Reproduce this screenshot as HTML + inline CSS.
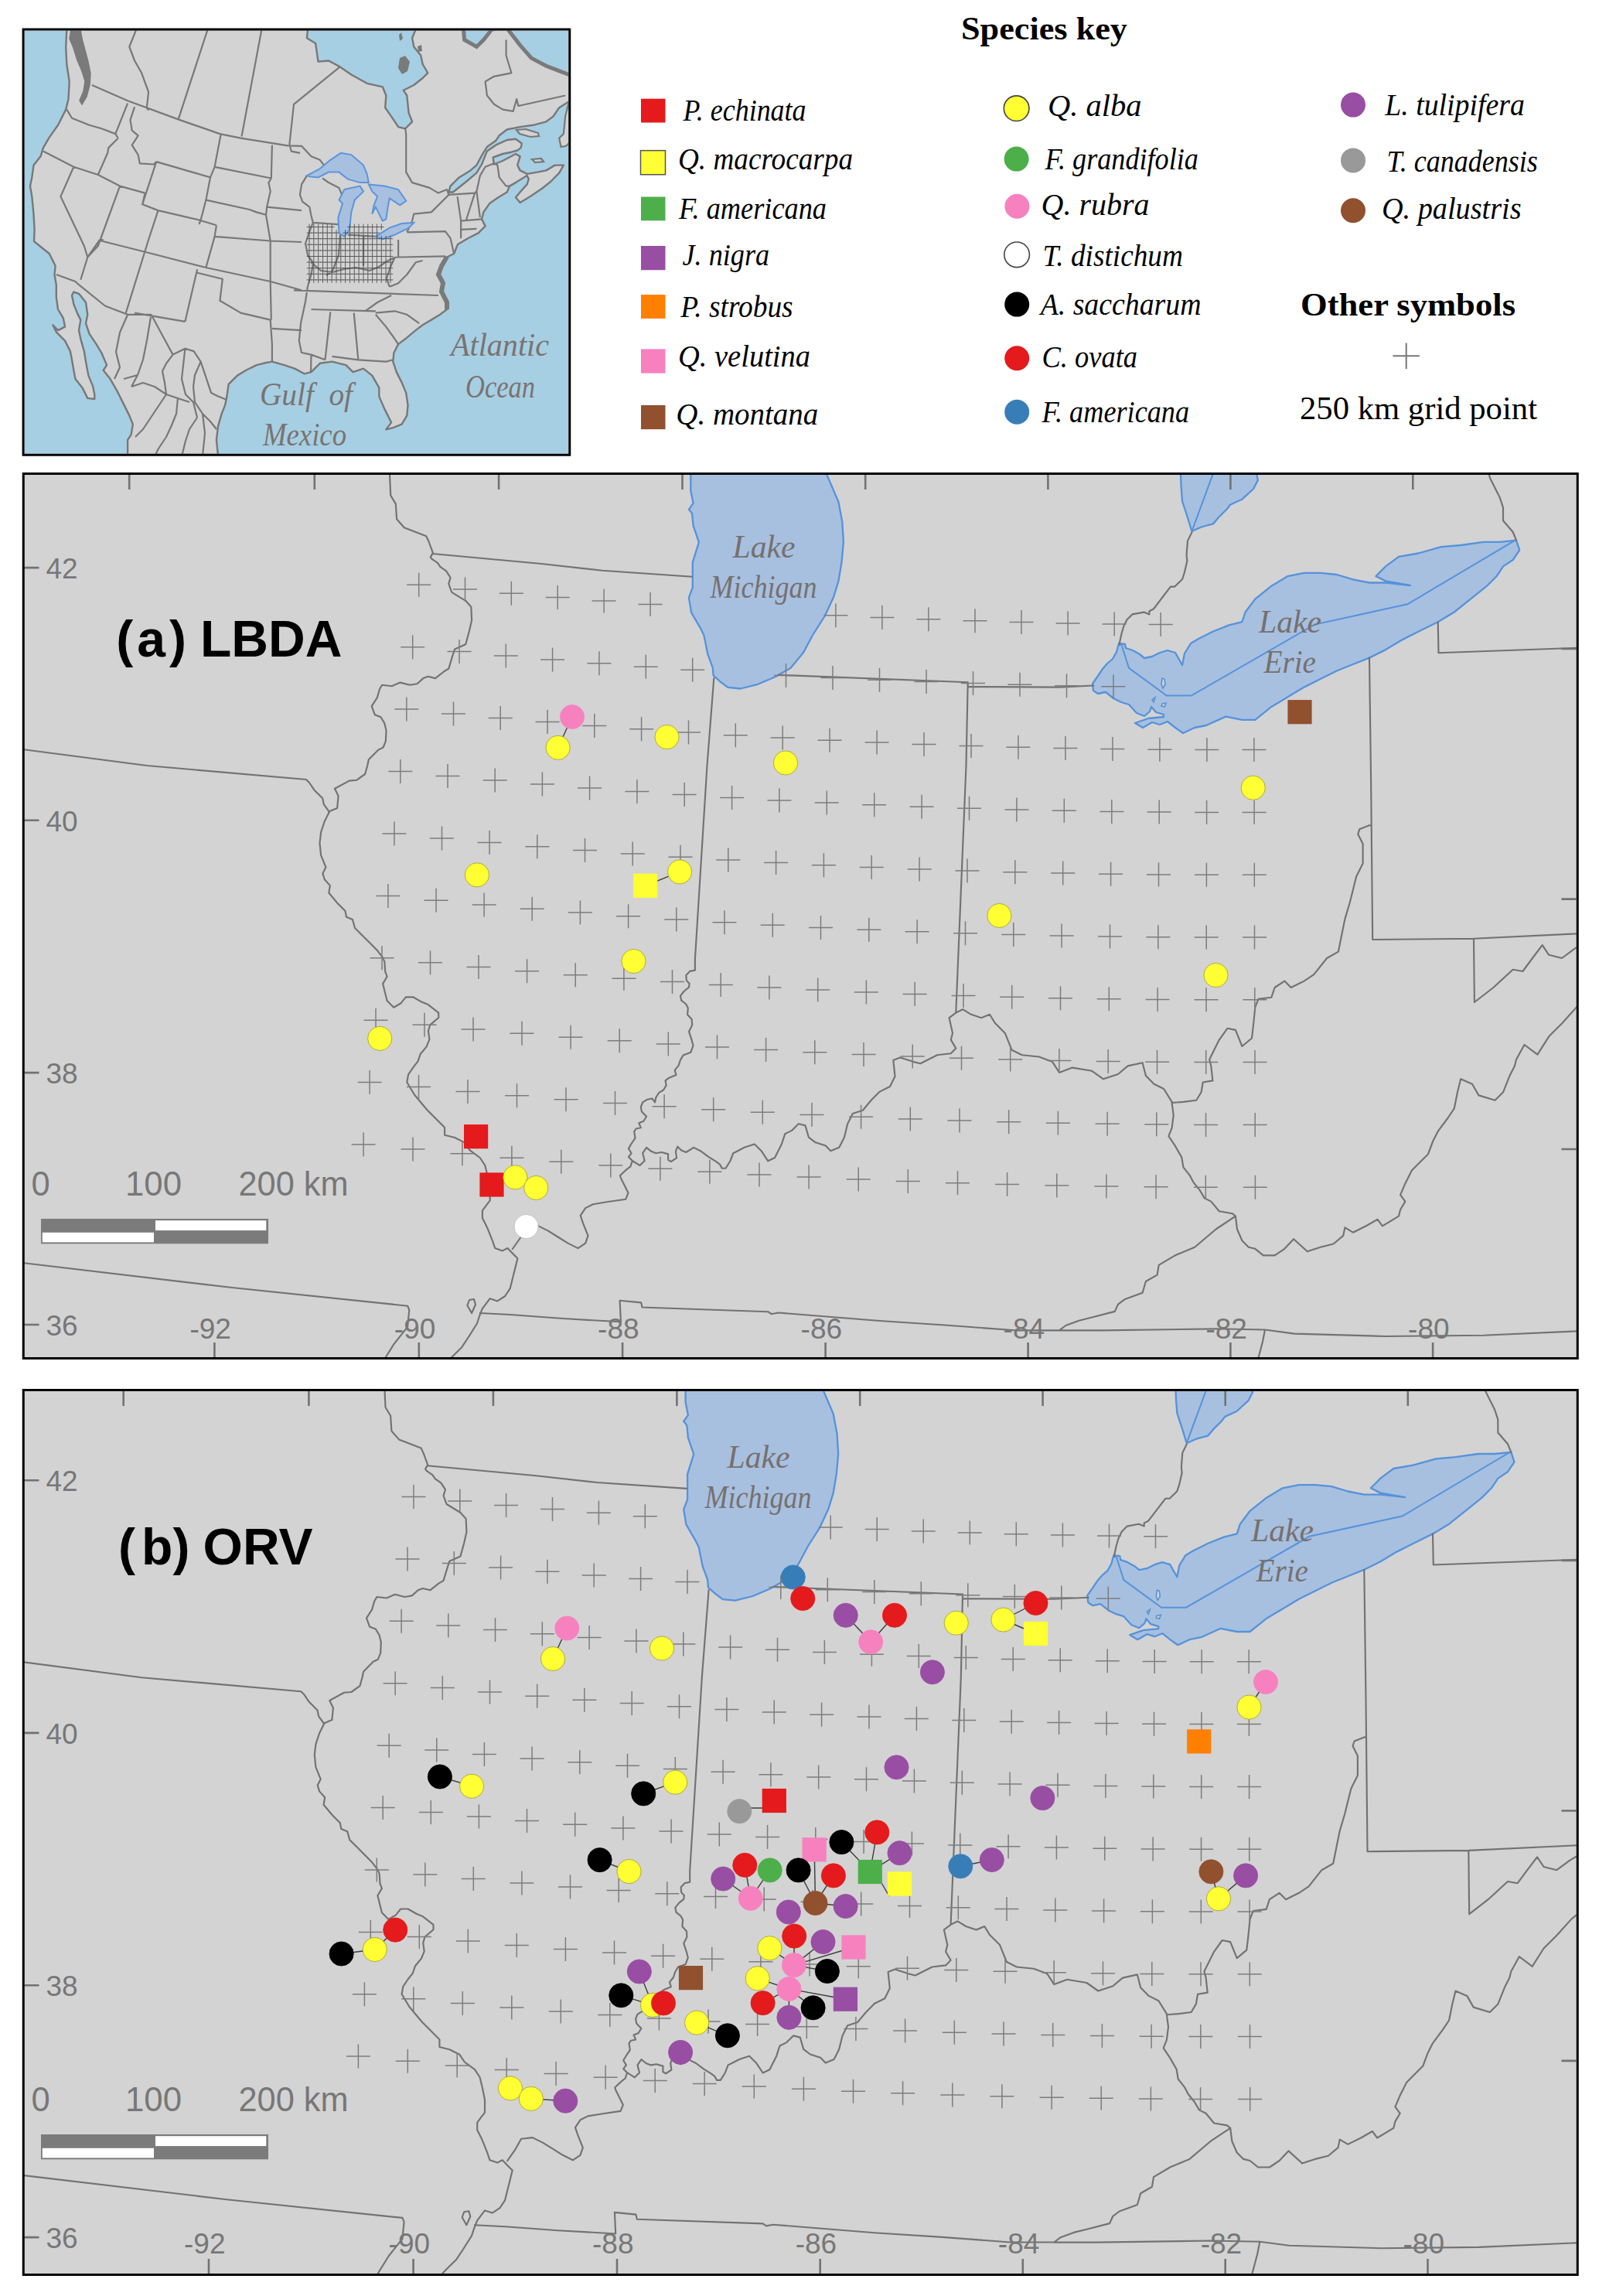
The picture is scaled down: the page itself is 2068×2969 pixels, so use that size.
<!DOCTYPE html>
<html><head><meta charset="utf-8"><style>
html,body{margin:0;padding:0;background:#fff;}
svg{display:block;}
</style></head><body>
<svg width="2068" height="2969" viewBox="0 0 2068 2969" xmlns="http://www.w3.org/2000/svg">
<defs>
<clipPath id="clipA"><rect x="31" y="613" width="2009" height="1143"/></clipPath>
<clipPath id="clipB"><rect x="31" y="1798" width="2009" height="1143"/></clipPath>
<g id="base">
<path d="M893.3,600.0 L893.3,614.9 L893.3,634.4 L896.6,650.7 L890.9,658.8 L895.0,663.7 L896.6,679.9 L903.9,701.1 L895.8,727.1 L895.8,759.6 L890.9,772.6 L894.1,792.1 L905.5,811.6 L910.4,821.4 L915.3,845.8 L921.8,863.7 L922.6,873.4 L931.5,881.5 L941.3,888.9 L957.6,890.5 L980.3,884.8 L1003.1,875.0 L1022.6,863.7 L1038.9,844.1 L1051.9,819.8 L1066.5,797.0 L1077.9,772.6 L1084.4,751.5 L1088.5,727.0 L1090.9,701.0 L1089.3,675.0 L1084.4,649.0 L1069.8,614.9 L1066.0,600.0Z" fill="#a7c0e0" stroke="#5692da" stroke-width="2.3" stroke-linejoin="round"/>
<path d="M1527.0,600.0 L1527.0,614.1 L1527.7,630.6 L1529.1,648.5 L1534.6,665.0 L1541.4,687.0 L1553.8,681.5 L1569.0,677.4 L1575.8,669.2 L1586.9,658.2 L1591.0,652.7 L1606.1,645.8 L1621.2,632.0 L1626.8,621.0 L1625.4,614.1 L1624.0,600.0Z" fill="#a7c0e0" stroke="#5692da" stroke-width="2.3" stroke-linejoin="round"/>
<path d="M1447.0,832.0 L1455.0,833.0 L1456.0,838.0 L1465.0,841.0 L1474.0,846.0 L1480.0,851.0 L1490.0,849.0 L1500.0,844.0 L1510.0,841.0 L1520.0,844.0 L1529.0,860.0 L1532.0,845.0 L1540.0,832.0 L1550.0,826.0 L1560.0,821.0 L1568.4,816.8 L1589.5,808.4 L1606.4,804.2 L1610.6,791.5 L1623.3,774.6 L1644.4,757.7 L1665.5,745.1 L1686.6,740.9 L1707.7,740.9 L1728.8,743.0 L1749.9,749.3 L1771.0,753.5 L1792.1,753.5 L1823.8,757.0 L1792.1,751.4 L1779.5,745.1 L1792.1,732.4 L1809.0,719.8 L1834.3,715.5 L1863.9,707.1 L1889.2,705.0 L1918.8,700.8 L1939.9,700.8 L1961.0,698.6 L1965.2,711.3 L1956.7,724.0 L1944.1,732.4 L1935.6,745.1 L1923.0,757.7 L1901.9,774.6 L1880.8,791.5 L1859.7,804.2 L1834.3,816.8 L1813.2,827.4 L1792.1,840.1 L1771.0,850.6 L1749.9,859.0 L1728.8,867.5 L1707.7,878.0 L1686.6,888.6 L1665.5,901.3 L1644.4,913.9 L1623.3,930.8 L1606.4,930.8 L1585.3,926.6 L1560.0,938.0 L1545.0,941.0 L1530.0,948.0 L1520.0,941.0 L1510.0,933.0 L1500.0,937.0 L1490.0,934.0 L1478.0,941.0 L1468.0,935.0 L1485.0,929.0 L1505.0,927.0 L1505.0,924.0 L1495.0,921.0 L1489.0,914.0 L1487.0,920.0 L1480.0,926.0 L1470.0,922.0 L1460.0,911.0 L1450.0,908.0 L1440.0,903.0 L1430.0,895.0 L1420.0,897.0 L1414.0,893.0 L1413.0,884.0 L1420.0,874.0 L1426.0,865.0 L1432.0,858.0 L1439.0,852.0 L1444.0,843.0Z" fill="#a7c0e0" stroke="#5692da" stroke-width="2.3" stroke-linejoin="round"/>
<path d="M1503.0,877.0 L1506.0,878.0 L1507.0,885.0 L1504.0,890.0 L1502.0,885.0Z" fill="#d3d3d3" stroke="#5692da" stroke-width="1.6"/>
<path d="M1490.0,905.0 L1494.0,902.0 L1492.0,908.0Z" fill="#d3d3d3" stroke="#5692da" stroke-width="1.6"/>
<path d="M1503.0,910.0 L1508.0,909.0 L1506.0,914.0 L1502.0,913.0Z" fill="#d3d3d3" stroke="#5692da" stroke-width="1.6"/>
<path d="M1541.4,687.0 L1568.3,614.1 L1573.0,600.0 M1450.2,833.0 L1460.0,863.9 L1508.8,899.5 L1540.7,899.5 L1700.2,807.6 L1820.3,781.3 L1959.1,698.8" fill="none" stroke="#5692da" stroke-width="2"/>
<path d="M504.0,612.0 L504.0,614.4 L505.2,640.6 L511.8,651.6 L513.1,671.3 L522.7,682.2 L551.2,693.2 L554.4,700.0 L559.9,714.9 L556.8,720.4 L558.3,722.7 L566.2,728.2 L569.3,732.9 L577.1,738.4 L582.6,747.0 L580.3,754.9 L584.2,765.8 L602.2,776.8 L609.3,784.7 L610.1,801.9 L606.9,816.0 L602.2,833.2 L588.1,839.5 L585.0,848.9 L580.3,864.6 L574.0,868.5 L563.0,877.1 L553.6,874.8 L547.4,877.1 L539.5,884.2 L530.1,885.8 L517.6,882.6 L506.6,887.3 L494.1,885.8 L490.9,891.3 L487.8,902.2 L480.7,913.2 L484.7,924.2 L492.5,927.3 L497.2,935.1 L499.5,944.6 L498.8,958.7 L495.6,966.5 L489.4,969.6 L476.8,982.2 L475.2,990.0 L472.1,1001.0 L461.1,1008.8 L451.7,1009.6 L432.9,1019.8 L437.6,1029.2 L436.1,1044.9 L425.1,1049.6 L426.1,1049.4 L419.8,1062.0 L415.1,1076.1 L413.5,1090.2 L415.1,1105.9 L421.4,1121.5 L417.4,1129.4 L419.8,1137.2 L426.9,1145.1 L425.3,1154.5 L437.0,1168.6 L446.5,1178.0 L448.0,1185.8 L455.9,1189.0 L459.0,1200.0 L468.4,1209.4 L477.8,1218.8 L487.2,1228.2 L495.1,1238.4 L497.4,1243.9 L498.2,1256.4 L500.6,1262.7 L495.1,1272.1 L498.2,1284.6 L500.6,1294.0 L509.2,1302.7 L518.6,1297.2 L524.9,1289.3 L534.3,1289.3 L545.2,1295.6 L553.1,1298.7 L567.2,1309.7 L567.2,1316.0 L556.2,1325.4 L553.9,1333.2 L555.4,1344.2 L551.5,1353.6 L543.7,1363.0 L540.5,1372.4 L534.3,1380.3 L528.0,1389.7 L526.3,1399.5 L536.1,1415.8 L552.4,1435.3 L568.6,1451.5 L575.1,1458.0 L575.1,1467.8 L588.1,1471.0 L601.1,1477.6 L607.6,1487.3 L620.7,1497.0 L627.2,1506.8 L630.4,1519.8 L633.7,1536.1 L633.7,1552.4 L623.9,1565.4 L623.9,1575.1 L630.4,1588.1 L636.9,1604.4 L640.2,1614.1 L649.9,1617.4 L656.4,1614.0 L662.9,1620.7 L669.4,1627.2 L666.2,1640.2 L662.9,1653.2 L659.7,1666.2 L653.2,1676.0 L643.4,1682.4 L633.7,1679.2 L623.9,1692.2 L620.7,1700.0 L616.9,1711.5 L605.9,1729.0 L597.2,1742.2 L584.0,1755.3 L575.0,1765.0 M610.0,1698.0 L604.4,1688.0 L607.0,1681.0 L613.0,1680.0 L615.0,1687.0 L610.0,1698.0 M25.0,968.5 L190.0,990.0 L396.0,1008.0 L400.0,1012.0 L406.3,1021.4 L417.2,1032.3 L418.8,1040.2 L425.1,1048.8 M559.1,716.0 L700.0,729.0 L778.8,737.8 L894.8,745.7 M25.0,1632.5 L300.0,1665.0 L527.1,1688.7 L529.3,1694.0 L527.1,1715.9 L509.6,1737.8 L498.7,1755.3 L493.0,1765.0 M923.3,877.0 L914.5,990.0 L898.9,1240.0 L898.9,1254.6 L892.2,1255.9 L887.3,1261.3 L887.9,1268.0 L891.6,1271.7 L891.0,1276.6 L884.9,1281.5 L880.0,1287.6 L881.2,1293.7 L887.3,1298.5 L889.8,1303.4 L889.1,1312.0 L894.6,1318.0 L895.2,1325.4 L891.0,1333.9 L894.6,1344.9 L896.5,1352.2 L893.4,1360.7 L883.7,1364.4 L880.0,1370.5 L877.6,1377.8 L872.7,1383.9 L874.5,1390.0 L865.4,1393.7 L860.5,1397.3 L861.7,1403.4 L858.0,1409.5 L852.0,1413.2 L848.3,1419.3 L847.1,1425.4 L843.4,1420.5 L837.3,1421.7 L831.2,1425.4 L828.8,1431.5 L830.0,1437.6 L836.1,1443.7 L832.4,1449.8 L826.3,1452.2 L828.8,1458.3 L822.7,1459.5 L820.2,1463.2 L821.5,1471.7 L816.6,1479.0 L812.9,1485.1 L816.6,1491.2 L812.9,1496.1 L817.8,1501.0 M817.8,1501.0 L815.4,1508.3 L809.3,1513.2 L802.0,1520.0 L802.8,1523.1 L812.5,1542.6 L809.3,1550.7 L786.5,1554.0 L767.0,1557.2 L757.2,1562.1 L750.7,1571.9 L754.0,1581.6 L760.5,1597.9 L757.2,1607.6 L747.5,1614.1 L734.5,1607.6 L721.5,1599.5 L708.5,1591.4 L695.4,1584.9 L680.8,1586.5 L672.7,1601.0 L662.9,1615.0 M817.8,1501.0 L827.6,1507.1 L833.7,1501.0 L831.2,1491.2 L836.1,1483.9 L842.2,1488.8 L848.3,1491.2 L855.6,1490.0 L864.1,1492.4 L864.1,1499.8 L867.8,1502.2 L875.1,1497.3 L873.9,1488.8 L876.3,1482.7 L881.2,1487.6 L887.3,1490.0 L897.1,1483.9 L906.8,1488.8 L916.6,1496.1 L926.3,1502.2 L931.2,1505.9 L933.7,1510.7 L938.5,1510.7 L944.6,1501.0 L948.3,1491.2 L953.2,1488.8 L962.7,1483.8 L975.8,1479.5 L984.6,1488.2 L993.3,1501.3 L1002.1,1497.0 L1010.9,1479.5 L1015.2,1466.3 L1024.0,1461.9 L1032.7,1453.2 L1041.5,1455.4 L1045.9,1470.7 L1054.6,1477.3 L1067.8,1481.6 L1074.3,1488.2 L1085.3,1483.8 L1091.9,1470.7 L1096.2,1453.2 L1102.8,1440.0 L1115.9,1435.7 L1126.9,1422.5 L1137.8,1411.6 L1151.0,1405.0 L1157.5,1391.9 L1155.3,1370.9 L1164.1,1367.4 L1181.6,1373.1 L1190.4,1375.3 L1212.2,1364.3 L1229.8,1362.2 L1236.3,1355.6 L1229.8,1344.6 L1232.0,1335.9 L1227.6,1316.2 L1236.3,1309.6 M1236.3,1309.6 L1245.1,1305.2 L1256.0,1311.8 L1269.3,1316.2 L1280.0,1311.8 L1286.7,1322.8 L1299.8,1335.9 L1308.6,1357.8 L1321.7,1364.3 L1343.6,1366.5 L1361.1,1373.1 L1370.0,1386.9 L1386.9,1380.6 L1412.2,1384.8 L1427.0,1395.3 L1446.0,1389.0 L1458.6,1378.4 L1477.6,1374.2 L1481.9,1391.1 L1492.4,1401.7 L1505.1,1408.0 L1515.6,1424.9 M1515.6,1426.0 L1530.4,1424.9 L1547.3,1422.8 L1553.6,1412.2 L1555.7,1399.5 L1568.4,1397.4 L1566.3,1378.4 L1564.2,1370.0 L1566.3,1365.7 L1576.8,1344.6 L1587.4,1329.8 L1597.9,1331.9 L1606.4,1353.0 L1619.0,1342.5 L1621.2,1323.5 L1623.3,1302.4 L1627.5,1291.8 L1644.4,1289.7 L1648.6,1277.0 L1661.3,1268.6 L1669.7,1277.0 L1686.6,1268.6 L1699.3,1260.2 L1716.1,1239.0 L1730.9,1230.6 L1735.1,1209.5 L1739.4,1188.4 L1745.7,1167.3 L1749.9,1150.4 L1754.1,1133.5 L1762.6,1116.6 L1762.6,1091.3 L1756.2,1078.6 L1758.3,1072.3 L1771.0,1067.2 L1773.0,1067.0 M1251.7,882.3 L1249.5,990.0 L1236.3,1309.6 M1006.5,872.7 L1251.7,882.3 M1251.7,882.3 L1251.7,888.0 L1370.0,888.6 L1414.3,886.5 M1771.0,850.6 L1773.1,1010.0 L1775.2,1215.0 M1859.7,804.2 L1860.5,844.3 L2048.0,837.5 M1775.2,1215.0 L1906.0,1213.7 L2048.0,1207.0 M1906.0,1213.7 L1906.9,1296.0 L1931.4,1277.0 L1956.7,1253.8 L1969.4,1256.0 L1982.0,1239.0 L1994.7,1222.2 L2003.2,1234.8 L2020.0,1239.0 L2037.0,1226.4 L2048.0,1220.0 M2048.0,1295.0 L2039.0,1302.4 L2020.0,1323.5 L2003.2,1340.3 L1988.4,1363.6 L1971.5,1351.0 L1961.0,1370.0 L1958.9,1378.4 L1952.5,1391.1 L1944.1,1412.2 L1933.5,1422.8 L1912.4,1416.4 L1904.0,1401.7 L1889.2,1395.3 L1885.0,1412.2 L1880.8,1433.3 L1872.3,1446.0 L1859.7,1462.9 L1853.3,1475.5 L1847.0,1492.4 L1834.3,1505.1 L1825.9,1513.5 L1817.4,1530.4 L1811.1,1545.2 L1817.4,1553.6 L1811.1,1564.2 L1809.0,1572.6 L1787.9,1585.3 L1781.6,1576.8 L1766.8,1585.3 L1749.9,1593.7 L1739.4,1587.4 L1737.2,1597.9 L1724.6,1608.5 L1707.7,1612.7 L1690.8,1618.2 L1673.1,1602.2 L1661.3,1614.8 L1648.6,1623.3 L1633.8,1623.3 L1623.3,1614.8 L1614.8,1612.7 L1606.4,1604.3 L1600.0,1589.5 L1597.9,1572.6 M1515.6,1426.0 L1517.7,1441.8 L1515.6,1458.6 L1511.4,1469.2 L1519.9,1481.9 L1528.3,1496.6 L1530.4,1509.3 L1538.8,1519.9 L1543.1,1528.3 L1551.5,1538.8 L1557.8,1549.4 L1566.3,1553.6 L1576.8,1566.3 L1593.7,1569.2 L1597.9,1572.6 M1597.9,1572.6 L1572.6,1589.5 L1545.2,1612.7 L1519.9,1623.3 L1498.7,1635.9 L1496.6,1648.6 L1481.9,1657.0 L1477.6,1671.8 L1454.4,1680.3 L1446.0,1686.6 L1441.8,1695.9 L1412.2,1703.5 L1395.3,1707.7 L1378.4,1714.0 L1369.9,1720.3 M620.7,1698.0 L660.0,1700.0 L728.0,1705.0 L802.9,1709.3 L801.6,1681.7 L829.2,1684.4 L830.5,1690.5 L993.3,1696.2 L997.7,1699.2 L1006.5,1697.5 L1137.8,1708.0 L1225.4,1713.7 L1313.0,1720.3 L1369.9,1720.3 M1369.9,1720.3 L1424.9,1720.4 L1572.6,1718.3 L1636.0,1719.5 L1674.0,1724.6 L1792.1,1728.0 L1918.8,1726.7 L2048.0,1721.0 M1636.0,1719.5 L1633.0,1735.0 L1627.5,1755.8 L1625.0,1765.0 M1541.4,688.4 L1536.0,699.4 L1534.6,717.3 L1535.3,725.6 L1531.8,740.7 L1529.1,749.0 L1519.4,758.6 L1513.9,758.6 L1491.9,787.5 L1486.4,790.2 L1486.4,794.4 L1479.5,791.6 L1464.4,794.4 L1457.5,801.2 L1453.4,809.5 L1450.6,819.1 L1447.9,831.5 L1448.0,834.0 M1961.0,698.6 L1956.7,688.0 L1944.0,673.3 L1944.0,656.4 L1939.9,643.8 L1927.2,618.4 L1923.0,605.0" fill="none" stroke="#727272" stroke-width="2.15" stroke-linejoin="round" stroke-linecap="round"/>
<path d="M526.2,756.2h31M541.7,740.7v31 M586.0,761.9h31M601.5,746.4v31 M645.8,767.3h31M661.3,751.8v31 M705.7,772.4h31M721.2,756.9v31 M765.6,777.1h31M781.1,761.6v31 M825.5,781.5h31M841.0,766.0v31 M1065.4,795.7h31M1080.9,780.2v31 M1125.4,798.4h31M1140.9,782.9v31 M1185.4,800.8h31M1200.9,785.3v31 M1245.5,802.8h31M1261.0,787.3v31 M1305.5,804.5h31M1321.0,789.0v31 M1365.6,805.9h31M1381.1,790.4v31 M1425.7,806.9h31M1441.2,791.4v31 M1485.7,807.6h31M1501.2,792.1v31 M518.2,836.7h31M533.7,821.2v31 M578.5,842.4h31M594.0,826.9v31 M638.8,847.9h31M654.3,832.4v31 M699.1,853.0h31M714.6,837.5v31 M759.4,857.8h31M774.9,842.3v31 M819.8,862.2h31M835.3,846.7v31 M880.2,866.3h31M895.7,850.8v31 M1001.0,873.4h31M1016.5,857.9v31 M1061.5,876.5h31M1077.0,861.0v31 M1122.0,879.2h31M1137.5,863.7v31 M1182.5,881.6h31M1198.0,866.1v31 M1243.0,883.6h31M1258.5,868.1v31 M1303.5,885.3h31M1319.0,869.8v31 M1364.0,886.7h31M1379.5,871.2v31 M1424.5,887.7h31M1440.0,872.2v31 M510.3,917.1h31M525.8,901.6v31 M571.0,922.9h31M586.5,907.4v31 M631.7,928.4h31M647.2,912.9v31 M692.5,933.6h31M708.0,918.1v31 M753.3,938.4h31M768.8,922.9v31 M814.1,942.8h31M829.6,927.3v31 M875.0,946.9h31M890.5,931.4v31 M935.8,950.7h31M951.3,935.2v31 M996.7,954.1h31M1012.2,938.6v31 M1057.6,957.2h31M1073.1,941.7v31 M1118.6,960.0h31M1134.1,944.5v31 M1179.5,962.4h31M1195.0,946.9v31 M1240.5,964.4h31M1256.0,948.9v31 M1301.4,966.2h31M1316.9,950.7v31 M1362.4,967.5h31M1377.9,952.0v31 M1423.4,968.6h31M1438.9,953.1v31 M1484.4,969.2h31M1499.9,953.7v31 M1545.4,969.6h31M1560.9,954.1v31 M1606.4,969.6h31M1621.9,954.1v31 M502.3,997.5h31M517.8,982.0v31 M563.5,1003.4h31M579.0,987.9v31 M624.7,1008.9h31M640.2,993.4v31 M685.9,1014.1h31M701.4,998.6v31 M747.1,1019.0h31M762.6,1003.5v31 M808.4,1023.4h31M823.9,1007.9v31 M869.7,1027.6h31M885.2,1012.1v31 M931.1,1031.4h31M946.6,1015.9v31 M992.4,1034.9h31M1007.9,1019.4v31 M1053.8,1038.0h31M1069.3,1022.5v31 M1115.2,1040.7h31M1130.7,1025.2v31 M1176.6,1043.2h31M1192.1,1027.7v31 M1238.0,1045.2h31M1253.5,1029.7v31 M1299.4,1047.0h31M1314.9,1031.5v31 M1360.8,1048.3h31M1376.3,1032.8v31 M1422.3,1049.4h31M1437.8,1033.9v31 M1483.7,1050.1h31M1499.2,1034.6v31 M1545.1,1050.4h31M1560.6,1034.9v31 M1606.6,1050.4h31M1622.1,1034.9v31 M494.4,1078.0h31M509.9,1062.5v31 M556.0,1083.9h31M571.5,1068.4v31 M617.6,1089.4h31M633.1,1073.9v31 M679.3,1094.7h31M694.8,1079.2v31 M741.0,1099.5h31M756.5,1084.0v31 M802.7,1104.1h31M818.2,1088.6v31 M864.5,1108.2h31M880.0,1092.7v31 M926.3,1112.1h31M941.8,1096.6v31 M988.1,1115.6h31M1003.6,1100.1v31 M1049.9,1118.7h31M1065.4,1103.2v31 M1111.7,1121.5h31M1127.2,1106.0v31 M1173.6,1123.9h31M1189.1,1108.4v31 M1235.5,1126.0h31M1251.0,1110.5v31 M1297.3,1127.7h31M1312.8,1112.2v31 M1359.2,1129.1h31M1374.7,1113.6v31 M1421.1,1130.2h31M1436.6,1114.7v31 M1483.0,1130.9h31M1498.5,1115.4v31 M1544.9,1131.2h31M1560.4,1115.7v31 M1606.8,1131.2h31M1622.3,1115.7v31 M486.4,1158.4h31M501.9,1142.9v31 M548.5,1164.3h31M564.0,1148.8v31 M610.6,1169.9h31M626.1,1154.4v31 M672.7,1175.2h31M688.2,1159.7v31 M734.9,1180.1h31M750.4,1164.6v31 M797.1,1184.7h31M812.6,1169.2v31 M859.3,1188.9h31M874.8,1173.4v31 M921.5,1192.7h31M937.0,1177.2v31 M983.8,1196.2h31M999.3,1180.7v31 M1046.0,1199.4h31M1061.5,1183.9v31 M1108.3,1202.2h31M1123.8,1186.7v31 M1170.6,1204.7h31M1186.1,1189.2v31 M1233.0,1206.8h31M1248.5,1191.3v31 M1295.3,1208.5h31M1310.8,1193.0v31 M1357.6,1209.9h31M1373.1,1194.4v31 M1420.0,1211.0h31M1435.5,1195.5v31 M1482.3,1211.7h31M1497.8,1196.2v31 M1544.7,1212.0h31M1560.2,1196.5v31 M1607.0,1212.0h31M1622.5,1196.5v31 M478.5,1238.8h31M494.0,1223.3v31 M541.0,1244.8h31M556.5,1229.3v31 M603.5,1250.4h31M619.0,1234.9v31 M666.1,1255.7h31M681.6,1240.2v31 M728.7,1260.7h31M744.2,1245.2v31 M791.4,1265.3h31M806.9,1249.8v31 M854.0,1269.5h31M869.5,1254.0v31 M916.7,1273.4h31M932.2,1257.9v31 M979.4,1276.9h31M994.9,1261.4v31 M1042.2,1280.1h31M1057.7,1264.6v31 M1104.9,1282.9h31M1120.4,1267.4v31 M1167.7,1285.4h31M1183.2,1269.9v31 M1230.5,1287.5h31M1246.0,1272.0v31 M1293.2,1289.3h31M1308.7,1273.8v31 M1356.0,1290.7h31M1371.5,1275.2v31 M1418.8,1291.8h31M1434.3,1276.3v31 M1481.6,1292.5h31M1497.1,1277.0v31 M1544.5,1292.8h31M1560.0,1277.3v31 M1607.3,1292.8h31M1622.8,1277.3v31 M470.5,1319.2h31M486.0,1303.7v31 M533.5,1325.2h31M549.0,1309.7v31 M596.5,1330.9h31M612.0,1315.4v31 M659.5,1336.2h31M675.0,1320.7v31 M722.6,1341.2h31M738.1,1325.7v31 M785.7,1345.8h31M801.2,1330.3v31 M848.8,1350.1h31M864.3,1334.6v31 M912.0,1354.0h31M927.5,1338.5v31 M975.1,1357.6h31M990.6,1342.1v31 M1038.3,1360.8h31M1053.8,1345.3v31 M1101.5,1363.6h31M1117.0,1348.1v31 M1164.7,1366.1h31M1180.2,1350.6v31 M1228.0,1368.3h31M1243.5,1352.8v31 M1291.2,1370.1h31M1306.7,1354.6v31 M1354.4,1371.5h31M1369.9,1356.0v31 M1417.7,1372.5h31M1433.2,1357.0v31 M1481.0,1373.3h31M1496.5,1357.8v31 M1544.2,1373.6h31M1559.7,1358.1v31 M1607.5,1373.6h31M1623.0,1358.1v31 M462.6,1399.5h31M478.1,1384.0v31 M526.0,1405.6h31M541.5,1390.1v31 M589.5,1411.4h31M605.0,1395.9v31 M653.0,1416.7h31M668.5,1401.2v31 M716.5,1421.8h31M732.0,1406.3v31 M780.0,1426.4h31M795.5,1410.9v31 M843.6,1430.7h31M859.1,1415.2v31 M907.2,1434.7h31M922.7,1419.2v31 M970.8,1438.2h31M986.3,1422.7v31 M1034.5,1441.5h31M1050.0,1426.0v31 M1098.1,1444.3h31M1113.6,1428.8v31 M1161.8,1446.9h31M1177.3,1431.4v31 M1225.5,1449.0h31M1241.0,1433.5v31 M1289.2,1450.8h31M1304.7,1435.3v31 M1352.9,1452.2h31M1368.4,1436.7v31 M1416.6,1453.3h31M1432.1,1437.8v31 M1480.3,1454.0h31M1495.8,1438.5v31 M1544.0,1454.4h31M1559.5,1438.9v31 M1607.7,1454.4h31M1623.2,1438.9v31 M454.6,1479.9h31M470.1,1464.4v31 M518.5,1486.1h31M534.0,1470.6v31 M582.4,1491.8h31M597.9,1476.3v31 M646.4,1497.2h31M661.9,1481.7v31 M710.3,1502.3h31M725.8,1486.8v31 M774.3,1507.0h31M789.8,1491.5v31 M838.4,1511.3h31M853.9,1495.8v31 M902.4,1515.3h31M917.9,1499.8v31 M966.5,1518.9h31M982.0,1503.4v31 M1030.6,1522.1h31M1046.1,1506.6v31 M1094.7,1525.0h31M1110.2,1509.5v31 M1158.8,1527.6h31M1174.3,1512.1v31 M1223.0,1529.7h31M1238.5,1514.2v31 M1287.1,1531.5h31M1302.6,1516.0v31 M1351.3,1533.0h31M1366.8,1517.5v31 M1415.4,1534.1h31M1430.9,1518.6v31 M1479.6,1534.8h31M1495.1,1519.3v31 M1543.8,1535.2h31M1559.3,1519.7v31 M1607.9,1535.2h31M1623.4,1519.7v31" stroke="#7d7d7d" stroke-width="1.5" fill="none"/>
</g>
</defs>
<rect width="2068" height="2969" fill="#fff"/>
<g>
<clipPath id="clipI"><rect x="31.5" y="39.5" width="703.75" height="547.25"/></clipPath>
<g clip-path="url(#clipI)">
<rect x="30" y="38" width="707" height="551" fill="#a6cfe3"/>
<path d="M86.3,38.0 L398.0,38.0 L599.5,38.0 L600.6,51.5 L616.4,60.5 L625.4,51.5 L634.4,40.3 L641.1,38.0 L656.8,38.0 L672.6,58.3 L687.2,75.1 L706.4,85.3 L721.0,90.9 L737.0,97.0 L737.0,131.0 L735.6,131.4 L723.2,139.3 L715.4,150.6 L706.4,157.3 L689.5,161.8 L672.6,164.1 L655.7,167.5 L645.6,175.3 L641.1,182.1 L629.8,190.0 L623.0,201.2 L616.3,213.6 L608.4,220.4 L593.8,229.4 L582.5,240.6 L580.3,248.5 L585.9,248.5 L602.8,235.0 L616.3,223.7 L623.0,212.5 L629.8,195.6 L641.1,187.7 L655.7,181.0 L667.0,179.8 L674.8,185.5 L673.7,191.1 L669.2,194.5 L661.3,196.7 L650.1,199.0 L637.7,203.5 L638.8,212.5 L650.0,208.0 L667.0,199.0 L672.6,202.4 L669.2,213.6 L672.6,220.4 L681.6,224.9 L695.1,222.6 L706.4,220.4 L717.6,213.6 L728.9,213.6 L723.2,223.7 L712.0,235.0 L700.7,244.0 L683.8,255.3 L672.6,262.0 L667.0,255.3 L672.6,248.5 L681.6,238.4 L683.8,231.6 L681.6,227.1 L667.0,236.1 L659.1,240.6 L655.7,248.5 L644.4,255.3 L633.2,263.1 L625.3,274.4 L623.1,283.4 L627.6,292.4 L618.6,301.4 L605.1,308.2 L592.0,316.0 L587.1,328.0 L578.1,332.5 L571.4,343.8 L566.9,355.0 L573.6,366.3 L571.4,377.5 L578.1,391.0 L578.1,400.0 L569.1,406.8 L557.8,413.6 L546.6,420.3 L537.6,427.1 L524.1,438.3 L515.1,445.1 L509.4,456.3 L508.3,467.6 L512.8,481.1 L519.6,494.6 L525.2,508.1 L527.5,523.9 L526.3,537.4 L519.6,548.6 L508.3,553.1 L499.3,555.4 L506.1,546.4 L497.1,528.4 L490.3,512.6 L490.3,501.4 L481.3,485.6 L470.0,476.6 L456.5,481.1 L447.5,472.1 L429.5,467.6 L413.8,469.8 L402.5,481.1 L393.5,483.3 L381.2,476.6 L367.7,472.1 L351.9,467.6 L340.7,469.8 L331.7,472.1 L318.2,478.8 L306.9,485.6 L295.6,496.9 L293.4,512.6 L291.1,523.9 L286.6,535.1 L282.1,550.9 L279.9,568.9 L282.1,590.0 L165.1,590.0 L165.1,568.9 L169.6,562.1 L171.8,548.6 L167.3,537.4 L160.6,523.9 L151.6,505.9 L142.6,490.1 L133.6,478.8 L138.1,472.1 L131.3,456.3 L124.6,445.1 L115.5,431.6 L111.0,418.1 L113.3,406.8 L111.0,391.0 L102.0,379.8 L95.3,377.5 L93.0,382.0 L95.3,393.3 L99.8,404.6 L104.3,413.6 L102.0,427.1 L104.3,438.3 L108.8,454.1 L111.0,467.6 L114.4,485.6 L120.0,499.1 L122.3,510.4 L122.3,516.0 L113.3,514.9 L106.5,501.4 L97.5,490.1 L95.3,478.8 L93.0,465.3 L90.8,454.1 L84.0,440.6 L72.8,429.3 L68.3,420.3 L75.0,427.1 L84.0,422.6 L81.8,411.3 L75.0,400.0 L72.8,384.3 L72.8,368.5 L70.5,355.0 L71.6,343.8 L63.8,328.0 L52.5,319.0 L44.0,312.0 L44.6,296.9 L43.5,276.6 L41.3,254.1 L39.0,240.6 L41.3,229.4 L43.5,213.6 L52.5,202.3 L55.9,191.1 L63.8,177.6 L75.0,161.8 L85.2,141.6 L88.5,128.0 L89.7,105.5 L86.3,83.0 L85.2,60.5 L86.3,38.0Z" fill="#d3d3d3" stroke="#787878" stroke-width="2.4" stroke-linejoin="round"/>
<path d="M398.0,36.0 L398.0,38.0 L396.9,49.3 L408.1,56.0 L411.5,79.6 L425.0,78.5 L439.7,86.4 L454.3,96.5 L474.6,107.8 L494.8,112.3 L499.3,123.5 L498.2,139.3 L506.1,150.6 L515.1,164.1 L524.1,166.3 L533.1,157.3 L528.6,146.1 L526.3,123.5 L521.8,116.8 L535.3,110.0 L546.6,101.0 L553.3,94.3 L546.6,83.0 L544.3,71.8 L535.3,60.5 L533.1,49.3 L537.6,38.0 L537.6,36.0Z" fill="#a6cfe3" stroke="#787878" stroke-width="2.4" stroke-linejoin="round"/>
<path d="M668.0,168.0 L680.0,167.0 L696.0,172.0 L697.0,176.0 L686.0,177.0 L672.0,173.0Z" fill="#d3d3d3" stroke="#787878" stroke-width="2.2"/>
<path d="M737.0,132.0 L735.6,132.6 L731.1,150.6 L728.9,173.1 L723.2,178.7 L725.5,190.0 L732.2,188.8 L737.0,184.0Z" fill="#d3d3d3" stroke="#787878" stroke-width="2.2"/>
<path d="M688.0,206.0 L700.0,205.0 L703.0,209.0 L692.0,210.0Z" fill="#d3d3d3" stroke="#787878" stroke-width="2.2"/>
<path d="M92.0,38.0 L104.0,38.0 L106.0,50.0 L110.0,65.0 L114.0,80.0 L117.0,95.0 L116.0,110.0 L112.0,125.0 L106.0,135.0 L103.0,130.0 L108.0,118.0 L110.0,105.0 L106.0,92.0 L100.0,78.0 L95.0,62.0 L90.0,50.0Z" fill="#7a7a7a" stroke="#7a7a7a" stroke-width="1.5"/>
<path d="M517,75 L524,72 L530,80 L527,92 L520,96 L515,88Z M540,60 L545,58 L546,66 L541,67Z M516,45 L519,42 L521,50 L517,53Z" fill="#7a7a7a"/>
<path d="M599.5,38 L600.6,51.5 L616.4,60.5 L625.4,51.5 L634.4,40.3 M656.8,38 L672.6,58.3 L687.2,75.1 L706.4,85.3 L721,90.9 L737,97" fill="none" stroke="#7a7a7a" stroke-width="5"/>
<path d="M578,332 L571,344 L567,355 L573,366 L571,377 L578,391 L578,400" fill="none" stroke="#7a7a7a" stroke-width="6"/>
<path d="M118.9,110.0 L165.1,130.3 L232.6,155.1 L284.4,173.1 L311.4,178.7 L372.2,188.4 L390.0,188.8 L402.5,202.3 L413.8,206.8 L420.0,215.0 M176.3,38.0 L167.3,60.5 L174.1,78.5 L183.1,94.3 L192.1,119.0 L189.8,139.3 L192.1,142.7 M268.6,38.0 L230.4,155.1 M338.4,38.0 L312.5,176.5 M439.7,86.4 L380.0,134.8 L374.4,186.6 L376.7,195.6 L388.0,197.8 M86.3,141.6 L93.0,152.8 L115.5,161.8 L131.3,166.3 L149.3,173.1 L152.7,178.7 M165.1,133.7 L149.3,173.1 M152.7,178.7 L140.3,191.1 L139.2,197.8 L126.8,226.0 M55.9,195.6 L95.3,215.8 L126.8,226.0 L155.0,240.6 L187.6,249.6 M174.1,138.2 L168.5,155.1 L170.7,168.6 L178.6,175.3 L170.7,187.7 L178.6,200.1 L180.8,211.3 L198.8,212.5 L202.2,209.1 M202.2,209.1 L272.0,229.4 M285.5,174.2 L277.6,215.8 L272.0,229.4 L266.4,258.6 L259.6,284.5 L257.4,290.0 M277.6,215.8 L350.8,230.5 M351.9,187.7 L350.8,230.5 L347.4,236.1 L349.7,247.4 L345.2,267.6 L344.0,277.8 M266.4,258.6 L322.7,271.0 L331.7,274.4 L344.0,277.8 M202.2,209.1 L184.2,264.2 L204.5,272.1 L257.4,284.5 L279.9,291.3 M187.6,249.6 L184.2,264.2 M204.5,272.1 L192.1,310.0 M155.0,240.6 L126.8,318.0 L113.3,332.5 M95.3,215.8 L78.4,254.1 L108.8,318.0 L113.3,332.5 L104.3,361.8 M113.3,332.5 L129.1,310.0 L133.6,310.0 M129.0,311.0 L187.6,325.8 L266.4,346.0 L349.7,364.0 L390.0,375.3 M279.9,291.3 L277.6,305.9 L266.4,346.0 M277.6,305.9 L349.7,311.5 L390.0,313.0 M345.2,267.6 L390.0,272.1 M344.0,277.8 L349.7,311.5 L349.7,364.0 L350.8,413.6 M72.8,355.0 L97.5,364.0 L99.8,366.3 L135.8,395.5 L165.1,406.8 L195.5,406.8 L210.1,433.8 L223.6,458.6 L239.4,450.7 L250.6,454.1 L259.6,467.6 L266.4,487.8 L273.1,508.1 L282.1,512.6 L293.4,517.1 M192.1,310.0 L162.8,404.6 M255.1,348.3 L239.4,415.8 M174.1,404.6 L239.4,415.8 M255.1,352.8 L287.8,360.7 L284.4,388.8 L311.4,404.6 L349.7,413.6 M349.7,413.6 L351.9,445.1 L351.9,467.6 M351.9,424.8 L390.0,427.1 M524.1,166.3 L525.2,173.1 L525.2,222.6 L533.1,236.1 L555.6,242.9 L566.9,249.6 L578.1,245.1 L580.4,251.9 M580.4,251.9 L557.8,274.4 L535.3,276.6 L533.1,285.6 L526.3,300.3 M654.6,51.5 L654.6,71.8 L661.4,94.3 L638.9,98.8 L627.6,105.5 L629.9,123.5 L638.9,134.8 L650.2,141.6 L663.7,143.8 L668.2,128.0 L670.4,137.0 L731.2,123.5 M580.4,251.9 L614.1,249.6 L616.4,247.4 L620.9,227.1 L627.6,215.8 L638.9,211.3 L643.4,213.6 L645.7,229.4 L654.6,240.6 L659.1,240.6 M591.6,254.1 L596.1,285.6 L596.1,308.2 M614.1,249.6 L602.9,284.5 M616.4,247.4 L620.9,281.1 M596.1,285.6 L623.1,283.4 M596.1,296.9 L616.4,295.8 M526.3,300.3 L575.9,299.2 L582.6,308.2 L587.1,328.0 M515.1,310.0 L515.1,332.5 L519.6,332.5 L575.9,331.4 M396.9,227.1 L390.1,238.4 L387.9,251.9 L391.3,260.9 L400.3,267.6 L402.5,278.9 L404.8,287.9 M417.1,230.5 L425.0,236.1 L438.5,242.9 L443.0,254.1 M404.8,287.9 L437.4,290.1 M449.8,303.7 L485.8,305.9 M404.8,287.9 L400.0,300.0 L395.0,315.0 L398.0,330.0 L405.0,340.0 L402.5,355.0 L398.0,370.0 L395.0,390.0 L389.0,418.1 L386.8,440.6 L390.0,456.0 L402.5,458.6 L402.0,481.0 M440.0,303.0 L438.0,330.0 L430.0,350.0 L422.0,356.0 M470.0,304.0 L470.0,344.0 M402.5,339.3 L415.0,350.0 L430.0,352.0 L445.0,348.0 L460.0,346.0 L478.0,350.0 L490.0,345.0 L500.0,338.0 L510.0,333.0 L515.1,332.5 M380.0,375.3 L566.9,382.0 M402.5,400.0 L485.8,402.3 M485.8,404.6 L510.6,402.3 L526.3,406.8 L542.1,418.1 M485.8,406.8 L499.3,422.6 L510.6,438.3 L515.1,445.1 M457.7,404.6 L463.3,465.3 M427.3,403.4 L420.5,465.3 M463.3,465.3 L499.3,467.6 L508.3,465.3 M429.5,460.8 L463.3,465.3 M402.5,458.6 L420.5,465.3 M472.3,402.3 L488.1,391.0 L506.1,382.0 M503.8,370.8 L515.1,366.3 L526.3,355.0 L537.6,339.3 L546.6,337.0 M510.6,333.0 L505.0,345.0 L500.0,360.0 L503.8,370.8 M165.1,406.8 L155.0,430.0 L150.0,455.0 L155.0,475.0 L148.0,490.0 M195.5,406.8 L190.0,440.0 L185.0,465.0 L178.0,485.0 L170.0,500.0 M223.6,458.6 L215.0,470.0 L210.0,480.0 L213.0,495.0 L215.0,510.0 M239.4,450.7 L235.0,490.0 L240.0,510.0 L250.0,520.0 L255.0,540.0 M170.0,500.0 L185.0,495.0 L200.0,500.0 L215.0,510.0 L230.0,515.0 L245.0,520.0 M178.0,485.0 L160.0,490.0 M259.6,467.6 L252.0,485.0 L250.0,500.0 L252.0,520.0 L262.0,535.0 L272.0,545.0 L280.0,555.0 M215.0,510.0 L205.0,525.0 L195.0,540.0 L185.0,555.0 L175.0,565.0 M230.0,515.0 L228.0,535.0 L222.0,550.0 L215.0,565.0 L205.0,580.0 L200.0,590.0 M255.0,540.0 L245.0,555.0 L240.0,570.0 L235.0,590.0 M262.0,535.0 L265.0,560.0 L262.0,590.0" fill="none" stroke="#787878" stroke-width="2.2" stroke-linejoin="round"/>
<path d="M396.9,227.1 L413.8,218.1 L427.3,206.8 L440.8,197.8 L454.3,200.1 L470.0,213.6 L474.6,224.9 L476.8,236.1 L465.5,236.1 L449.8,231.6 L438.5,222.6 L425.0,222.6 L411.5,229.4 L400.3,228.2Z" fill="#a7c0e0" stroke="#5b95dc" stroke-width="2"/>
<path d="M445.3,245.1 L465.5,240.6 L470.0,247.4 L458.8,258.6 L454.3,274.4 L452.0,296.9 L445.3,305.9 L438.5,301.4 L437.4,281.1 L443.0,263.1 L438.5,258.6Z" fill="#a7c0e0" stroke="#5b95dc" stroke-width="2"/>
<path d="M476.8,238.4 L497.1,240.6 L515.1,245.1 L525.2,259.7 L517.3,265.4 L503.8,256.4 L501.6,267.6 L499.3,283.4 L494.8,285.6 L490.3,276.6 L485.8,267.6 L481.3,276.6 L483.6,265.4 L488.1,254.1 L481.3,247.4Z" fill="#a7c0e0" stroke="#5b95dc" stroke-width="2"/>
<path d="M485.8,305.9 L503.8,294.6 L519.6,289.0 L535.3,287.9 L528.6,294.6 L510.6,303.7 L494.8,309.3Z" fill="#a7c0e0" stroke="#5b95dc" stroke-width="2"/>
<path d="M396.6,293.5h6.8M400.0,289.6v7.8M402.4,293.5h6.8M405.8,289.6v7.8M408.3,293.5h6.8M411.7,289.6v7.8M414.1,293.5h6.8M417.5,289.6v7.8M419.9,293.5h6.8M423.3,289.6v7.8M425.8,293.5h6.8M429.1,289.6v7.8M449.1,293.5h6.8M452.5,289.6v7.8M454.9,293.5h6.8M458.3,289.6v7.8M460.7,293.5h6.8M464.1,289.6v7.8M466.6,293.5h6.8M470.0,289.6v7.8M472.4,293.5h6.8M475.8,289.6v7.8M478.2,293.5h6.8M481.6,289.6v7.8M484.1,293.5h6.8M487.4,289.6v7.8M489.9,293.5h6.8M493.3,289.6v7.8M396.6,301.1h6.8M400.0,297.2v7.8M402.4,301.1h6.8M405.8,297.2v7.8M408.3,301.1h6.8M411.7,297.2v7.8M414.1,301.1h6.8M417.5,297.2v7.8M419.9,301.1h6.8M423.3,297.2v7.8M425.8,301.1h6.8M429.1,297.2v7.8M431.6,301.1h6.8M435.0,297.2v7.8M443.2,301.1h6.8M446.6,297.2v7.8M449.1,301.1h6.8M452.5,297.2v7.8M454.9,301.1h6.8M458.3,297.2v7.8M460.7,301.1h6.8M464.1,297.2v7.8M466.6,301.1h6.8M470.0,297.2v7.8M472.4,301.1h6.8M475.8,297.2v7.8M478.2,301.1h6.8M481.6,297.2v7.8M484.1,301.1h6.8M487.4,297.2v7.8M396.6,308.7h6.8M400.0,304.8v7.8M402.4,308.7h6.8M405.8,304.8v7.8M408.3,308.7h6.8M411.7,304.8v7.8M414.1,308.7h6.8M417.5,304.8v7.8M419.9,308.7h6.8M423.3,304.8v7.8M425.8,308.7h6.8M429.1,304.8v7.8M431.6,308.7h6.8M435.0,304.8v7.8M437.4,308.7h6.8M440.8,304.8v7.8M443.2,308.7h6.8M446.6,304.8v7.8M449.1,308.7h6.8M452.5,304.8v7.8M454.9,308.7h6.8M458.3,304.8v7.8M460.7,308.7h6.8M464.1,304.8v7.8M466.6,308.7h6.8M470.0,304.8v7.8M472.4,308.7h6.8M475.8,304.8v7.8M478.2,308.7h6.8M481.6,304.8v7.8M484.1,308.7h6.8M487.4,304.8v7.8M489.9,308.7h6.8M493.3,304.8v7.8M495.7,308.7h6.8M499.1,304.8v7.8M501.5,308.7h6.8M504.9,304.8v7.8M396.6,316.3h6.8M400.0,312.4v7.8M402.4,316.3h6.8M405.8,312.4v7.8M408.3,316.3h6.8M411.7,312.4v7.8M414.1,316.3h6.8M417.5,312.4v7.8M419.9,316.3h6.8M423.3,312.4v7.8M425.8,316.3h6.8M429.1,312.4v7.8M431.6,316.3h6.8M435.0,312.4v7.8M437.4,316.3h6.8M440.8,312.4v7.8M443.2,316.3h6.8M446.6,312.4v7.8M449.1,316.3h6.8M452.5,312.4v7.8M454.9,316.3h6.8M458.3,312.4v7.8M460.7,316.3h6.8M464.1,312.4v7.8M466.6,316.3h6.8M470.0,312.4v7.8M472.4,316.3h6.8M475.8,312.4v7.8M478.2,316.3h6.8M481.6,312.4v7.8M484.1,316.3h6.8M487.4,312.4v7.8M489.9,316.3h6.8M493.3,312.4v7.8M495.7,316.3h6.8M499.1,312.4v7.8M501.5,316.3h6.8M504.9,312.4v7.8M396.6,323.9h6.8M400.0,320.0v7.8M402.4,323.9h6.8M405.8,320.0v7.8M408.3,323.9h6.8M411.7,320.0v7.8M414.1,323.9h6.8M417.5,320.0v7.8M419.9,323.9h6.8M423.3,320.0v7.8M425.8,323.9h6.8M429.1,320.0v7.8M431.6,323.9h6.8M435.0,320.0v7.8M437.4,323.9h6.8M440.8,320.0v7.8M443.2,323.9h6.8M446.6,320.0v7.8M449.1,323.9h6.8M452.5,320.0v7.8M454.9,323.9h6.8M458.3,320.0v7.8M460.7,323.9h6.8M464.1,320.0v7.8M466.6,323.9h6.8M470.0,320.0v7.8M472.4,323.9h6.8M475.8,320.0v7.8M478.2,323.9h6.8M481.6,320.0v7.8M484.1,323.9h6.8M487.4,320.0v7.8M489.9,323.9h6.8M493.3,320.0v7.8M495.7,323.9h6.8M499.1,320.0v7.8M501.5,323.9h6.8M504.9,320.0v7.8M396.6,331.5h6.8M400.0,327.6v7.8M402.4,331.5h6.8M405.8,327.6v7.8M408.3,331.5h6.8M411.7,327.6v7.8M414.1,331.5h6.8M417.5,327.6v7.8M419.9,331.5h6.8M423.3,327.6v7.8M425.8,331.5h6.8M429.1,327.6v7.8M431.6,331.5h6.8M435.0,327.6v7.8M437.4,331.5h6.8M440.8,327.6v7.8M443.2,331.5h6.8M446.6,327.6v7.8M449.1,331.5h6.8M452.5,327.6v7.8M454.9,331.5h6.8M458.3,327.6v7.8M460.7,331.5h6.8M464.1,327.6v7.8M466.6,331.5h6.8M470.0,327.6v7.8M472.4,331.5h6.8M475.8,327.6v7.8M478.2,331.5h6.8M481.6,327.6v7.8M484.1,331.5h6.8M487.4,327.6v7.8M489.9,331.5h6.8M493.3,327.6v7.8M495.7,331.5h6.8M499.1,327.6v7.8M501.5,331.5h6.8M504.9,327.6v7.8M396.6,339.1h6.8M400.0,335.2v7.8M402.4,339.1h6.8M405.8,335.2v7.8M408.3,339.1h6.8M411.7,335.2v7.8M414.1,339.1h6.8M417.5,335.2v7.8M419.9,339.1h6.8M423.3,335.2v7.8M425.8,339.1h6.8M429.1,335.2v7.8M431.6,339.1h6.8M435.0,335.2v7.8M437.4,339.1h6.8M440.8,335.2v7.8M443.2,339.1h6.8M446.6,335.2v7.8M449.1,339.1h6.8M452.5,335.2v7.8M454.9,339.1h6.8M458.3,335.2v7.8M460.7,339.1h6.8M464.1,335.2v7.8M466.6,339.1h6.8M470.0,335.2v7.8M472.4,339.1h6.8M475.8,335.2v7.8M478.2,339.1h6.8M481.6,335.2v7.8M484.1,339.1h6.8M487.4,335.2v7.8M489.9,339.1h6.8M493.3,335.2v7.8M495.7,339.1h6.8M499.1,335.2v7.8M501.5,339.1h6.8M504.9,335.2v7.8M396.6,346.7h6.8M400.0,342.8v7.8M402.4,346.7h6.8M405.8,342.8v7.8M408.3,346.7h6.8M411.7,342.8v7.8M414.1,346.7h6.8M417.5,342.8v7.8M419.9,346.7h6.8M423.3,342.8v7.8M425.8,346.7h6.8M429.1,342.8v7.8M431.6,346.7h6.8M435.0,342.8v7.8M437.4,346.7h6.8M440.8,342.8v7.8M443.2,346.7h6.8M446.6,342.8v7.8M449.1,346.7h6.8M452.5,342.8v7.8M454.9,346.7h6.8M458.3,342.8v7.8M460.7,346.7h6.8M464.1,342.8v7.8M466.6,346.7h6.8M470.0,342.8v7.8M472.4,346.7h6.8M475.8,342.8v7.8M478.2,346.7h6.8M481.6,342.8v7.8M484.1,346.7h6.8M487.4,342.8v7.8M489.9,346.7h6.8M493.3,342.8v7.8M495.7,346.7h6.8M499.1,342.8v7.8M501.5,346.7h6.8M504.9,342.8v7.8M396.6,354.3h6.8M400.0,350.4v7.8M402.4,354.3h6.8M405.8,350.4v7.8M408.3,354.3h6.8M411.7,350.4v7.8M414.1,354.3h6.8M417.5,350.4v7.8M419.9,354.3h6.8M423.3,350.4v7.8M425.8,354.3h6.8M429.1,350.4v7.8M431.6,354.3h6.8M435.0,350.4v7.8M437.4,354.3h6.8M440.8,350.4v7.8M443.2,354.3h6.8M446.6,350.4v7.8M449.1,354.3h6.8M452.5,350.4v7.8M454.9,354.3h6.8M458.3,350.4v7.8M460.7,354.3h6.8M464.1,350.4v7.8M466.6,354.3h6.8M470.0,350.4v7.8M472.4,354.3h6.8M475.8,350.4v7.8M478.2,354.3h6.8M481.6,350.4v7.8M484.1,354.3h6.8M487.4,350.4v7.8M489.9,354.3h6.8M493.3,350.4v7.8M495.7,354.3h6.8M499.1,350.4v7.8M501.5,354.3h6.8M504.9,350.4v7.8M396.6,361.9h6.8M400.0,358.0v7.8M402.4,361.9h6.8M405.8,358.0v7.8M408.3,361.9h6.8M411.7,358.0v7.8M414.1,361.9h6.8M417.5,358.0v7.8M419.9,361.9h6.8M423.3,358.0v7.8M425.8,361.9h6.8M429.1,358.0v7.8M431.6,361.9h6.8M435.0,358.0v7.8M437.4,361.9h6.8M440.8,358.0v7.8M443.2,361.9h6.8M446.6,358.0v7.8M449.1,361.9h6.8M452.5,358.0v7.8M454.9,361.9h6.8M458.3,358.0v7.8M460.7,361.9h6.8M464.1,358.0v7.8M466.6,361.9h6.8M470.0,358.0v7.8M472.4,361.9h6.8M475.8,358.0v7.8M478.2,361.9h6.8M481.6,358.0v7.8M484.1,361.9h6.8M487.4,358.0v7.8M489.9,361.9h6.8M493.3,358.0v7.8M495.7,361.9h6.8M499.1,358.0v7.8M501.5,361.9h6.8M504.9,358.0v7.8" stroke="#4a4a4a" stroke-width="1" fill="none" opacity="0.85"/>
<text x="336" y="524" font-family="Liberation Serif, serif" font-style="italic" font-size="42" fill="#7a7370" textLength="120" lengthAdjust="spacingAndGlyphs" >Gulf &#160;of</text>
<text x="340" y="576" font-family="Liberation Serif, serif" font-style="italic" font-size="42" fill="#7a7370" textLength="108" lengthAdjust="spacingAndGlyphs" >Mexico</text>
<text x="583" y="460.4" font-family="Liberation Serif, serif" font-style="italic" font-size="42" fill="#7a7370" textLength="127" lengthAdjust="spacingAndGlyphs" >Atlantic</text>
<text x="602" y="513.7" font-family="Liberation Serif, serif" font-style="italic" font-size="42" fill="#7a7370" textLength="90" lengthAdjust="spacingAndGlyphs" >Ocean</text>
</g>
<rect x="30.1" y="38" width="706.65" height="550.25" fill="none" stroke="#000" stroke-width="3"/>
</g>
<g>
<text x="1243" y="51.3" font-family="Liberation Serif, serif" font-weight="bold" font-size="43" textLength="215" lengthAdjust="spacingAndGlyphs">Species key</text>
<rect x="829" y="127.7" width="31.5" height="30.799999999999997" fill="#e41a1c"/>
<text x="883.4" y="156.3" font-family="Liberation Serif, serif" font-style="italic" font-size="41" fill="#000" textLength="159.19999999999993" lengthAdjust="spacingAndGlyphs" >P. echinata</text>
<rect x="828.5" y="194.65" width="32" height="31.099999999999994" fill="#ffff33" stroke="#555" stroke-width="1.5"/>
<text x="877" y="219.3" font-family="Liberation Serif, serif" font-style="italic" font-size="41" fill="#000" textLength="226" lengthAdjust="spacingAndGlyphs" >Q. macrocarpa</text>
<rect x="829" y="254.5" width="31.5" height="30.80000000000001" fill="#4daf4a"/>
<text x="878" y="283.2" font-family="Liberation Serif, serif" font-style="italic" font-size="41" fill="#000" textLength="191" lengthAdjust="spacingAndGlyphs" >F. americana</text>
<rect x="829" y="318" width="31.5" height="31.19999999999999" fill="#984ea3"/>
<text x="882.5" y="343" font-family="Liberation Serif, serif" font-style="italic" font-size="41" fill="#000" textLength="112.60000000000002" lengthAdjust="spacingAndGlyphs" >J. nigra</text>
<rect x="829" y="381.1" width="31.5" height="30.799999999999955" fill="#ff7f00"/>
<text x="880.3" y="409.6" font-family="Liberation Serif, serif" font-style="italic" font-size="41" fill="#000" textLength="145.29999999999995" lengthAdjust="spacingAndGlyphs" >P. strobus</text>
<rect x="829" y="451.4" width="31.5" height="31.200000000000045" fill="#f781bf"/>
<text x="877" y="473.5" font-family="Liberation Serif, serif" font-style="italic" font-size="41" fill="#000" textLength="171" lengthAdjust="spacingAndGlyphs" >Q. velutina</text>
<rect x="829" y="524" width="31.5" height="31.100000000000023" fill="#91502e"/>
<text x="874.3" y="548.8" font-family="Liberation Serif, serif" font-style="italic" font-size="41" fill="#000" textLength="183.9000000000001" lengthAdjust="spacingAndGlyphs" >Q. montana</text>
<circle cx="1314.6" cy="140.2" r="16.3" fill="#ffff33" stroke="#444" stroke-width="1.6"/>
<text x="1355.1" y="149.9" font-family="Liberation Serif, serif" font-style="italic" font-size="41" fill="#000" textLength="121.30000000000018" lengthAdjust="spacingAndGlyphs" >Q. alba</text>
<circle cx="1314.6" cy="205.6" r="16" fill="#4daf4a"/>
<text x="1351.5" y="218.8" font-family="Liberation Serif, serif" font-style="italic" font-size="41" fill="#000" textLength="198.4000000000001" lengthAdjust="spacingAndGlyphs" >F. grandifolia</text>
<circle cx="1315.4" cy="266.7" r="16" fill="#f781bf"/>
<text x="1346.6" y="277.8" font-family="Liberation Serif, serif" font-style="italic" font-size="41" fill="#000" textLength="139.80000000000018" lengthAdjust="spacingAndGlyphs" >Q. rubra</text>
<circle cx="1315.1" cy="329.3" r="16.3" fill="#ffffff" stroke="#444" stroke-width="1.6"/>
<text x="1348.4" y="343.9" font-family="Liberation Serif, serif" font-style="italic" font-size="41" fill="#000" textLength="181.5" lengthAdjust="spacingAndGlyphs" >T. distichum</text>
<circle cx="1315.2" cy="393.6" r="16" fill="#000000"/>
<text x="1345.7" y="407" font-family="Liberation Serif, serif" font-style="italic" font-size="41" fill="#000" textLength="207.79999999999995" lengthAdjust="spacingAndGlyphs" >A. saccharum</text>
<circle cx="1315.2" cy="463.2" r="16" fill="#e41a1c"/>
<text x="1347.5" y="475" font-family="Liberation Serif, serif" font-style="italic" font-size="41" fill="#000" textLength="123.5" lengthAdjust="spacingAndGlyphs" >C. ovata</text>
<circle cx="1315.2" cy="532.7" r="16" fill="#377eb8"/>
<text x="1347.5" y="546.3" font-family="Liberation Serif, serif" font-style="italic" font-size="41" fill="#000" textLength="190.5999999999999" lengthAdjust="spacingAndGlyphs" >F. americana</text>
<circle cx="1750" cy="135.6" r="16" fill="#984ea3"/>
<text x="1791.3" y="149.3" font-family="Liberation Serif, serif" font-style="italic" font-size="41" fill="#000" textLength="180.60000000000014" lengthAdjust="spacingAndGlyphs" >L. tulipifera</text>
<circle cx="1750" cy="207.4" r="16" fill="#999999"/>
<text x="1793.4" y="221.6" font-family="Liberation Serif, serif" font-style="italic" font-size="41" fill="#000" textLength="195.5" lengthAdjust="spacingAndGlyphs" >T. canadensis</text>
<circle cx="1750" cy="272.2" r="16" fill="#91502e"/>
<text x="1787" y="282.9" font-family="Liberation Serif, serif" font-style="italic" font-size="41" fill="#000" textLength="180.5999999999999" lengthAdjust="spacingAndGlyphs" >Q. palustris</text>
<text x="1682" y="407.8" font-family="Liberation Serif, serif" font-weight="bold" font-size="43" textLength="278" lengthAdjust="spacingAndGlyphs">Other symbols</text>
<path d="M1801.4,460.2h34.5M1818.7,443.4v33.6" stroke="#777" stroke-width="2"/>
<text x="1681" y="541.8" font-family="Liberation Serif, serif" font-size="42" textLength="307" lengthAdjust="spacingAndGlyphs">250 km grid point</text>
</g>
<g clip-path="url(#clipA)">
<rect x="30" y="612" width="2011" height="1145" fill="#d3d3d3"/>
<use href="#base"/>
</g>
<g font-family="Liberation Sans, sans-serif" font-size="37" fill="#777">
<path d="M167.2,614.0v19 M406.8,614.0v19 M277.4,1755.0v-19 M645.1,614.0v19 M541.8,1755.0v-19 M882.5,614.0v19 M805.1,1755.0v-19 M1119.2,614.0v19 M1067.6,1755.0v-19 M1355.4,614.0v19 M1329.6,1755.0v-19 M1591.4,614.0v19 M1591.4,1755.0v-19 M1827.3,614.0v19 M1853.1,1755.0v-19 M31.5,734.1h19 M2038.5,839.0h-19 M31.5,1060.7h19 M2038.5,1162.6h-19 M31.5,1387.1h19 M2038.5,1486.0h-19 M31.5,1713.0h19" stroke="#727272" stroke-width="2.6" fill="none"/>
<text x="298.9" y="1731.0" text-anchor="end">-92</text>
<text x="563.3" y="1731.0" text-anchor="end">-90</text>
<text x="826.6" y="1731.0" text-anchor="end">-88</text>
<text x="1089.1" y="1731.0" text-anchor="end">-86</text>
<text x="1351.1" y="1731.0" text-anchor="end">-84</text>
<text x="1612.9" y="1731.0" text-anchor="end">-82</text>
<text x="1874.6" y="1731.0" text-anchor="end">-80</text>
<text x="59.5" y="748.1">42</text>
<text x="59.5" y="1074.7">40</text>
<text x="59.5" y="1401.1">38</text>
<text x="59.5" y="1727.0">36</text>
<text x="40.5" y="1546.3" font-size="43.5">0</text><text x="162" y="1546.3" font-size="43.5" textLength="73" lengthAdjust="spacingAndGlyphs">100</text><text x="308.5" y="1546.3" font-size="43.5" textLength="142" lengthAdjust="spacingAndGlyphs">200 km</text>
</g>
<g>
<rect x="53" y="1576" width="294" height="32.3" fill="#7b7b7b"/>
<rect x="201" y="1578.2" width="143.3" height="12.9" fill="#fff"/>
<rect x="54.8" y="1593.8" width="144.2" height="12.6" fill="#fff"/>
</g>
<g font-family="Liberation Sans, sans-serif" font-weight="bold" font-size="66" fill="#000"><text x="150.3" y="849.1">(</text><text x="177.2" y="849.1">a</text><text x="219.1" y="849.1">)</text><text x="259" y="849.1">LBDA</text></g>
<g font-family="Liberation Serif, serif" font-style="italic" font-size="42" fill="#77706e">
<text x="947.5" y="720.5" textLength="81" lengthAdjust="spacingAndGlyphs">Lake</text><text x="918.5" y="772.5" textLength="138" lengthAdjust="spacingAndGlyphs">Michigan</text>
<text x="1628" y="817.5" textLength="81" lengthAdjust="spacingAndGlyphs">Lake</text><text x="1634.5" y="870" textLength="67.5" lengthAdjust="spacingAndGlyphs">Erie</text></g>
<g clip-path="url(#clipA)"><line x1="740" y1="927" x2="721.6" y2="966.8" stroke="#3c3c3c" stroke-width="1.4"/>
<line x1="834.7" y1="1145.3" x2="879.1" y2="1127.4" stroke="#3c3c3c" stroke-width="1.4"/>
<circle cx="740" cy="927" r="15.6" fill="#f781bf" stroke="#f781bf" stroke-width="0.8"/>
<circle cx="721.6" cy="966.8" r="15.6" fill="#ffff33" stroke="#9a9a3a" stroke-width="0.8"/>
<circle cx="862.5" cy="953.1" r="15.6" fill="#ffff33" stroke="#9a9a3a" stroke-width="0.8"/>
<circle cx="1016" cy="986.5" r="15.6" fill="#ffff33" stroke="#9a9a3a" stroke-width="0.8"/>
<circle cx="616.9" cy="1131.4" r="15.6" fill="#ffff33" stroke="#9a9a3a" stroke-width="0.8"/>
<rect x="819.1" y="1129.7" width="31.2" height="31.2" fill="#ffff33"/>
<circle cx="879.1" cy="1127.4" r="15.6" fill="#ffff33" stroke="#9a9a3a" stroke-width="0.8"/>
<circle cx="819.5" cy="1243" r="15.6" fill="#ffff33" stroke="#9a9a3a" stroke-width="0.8"/>
<circle cx="491.2" cy="1342.9" r="15.6" fill="#ffff33" stroke="#9a9a3a" stroke-width="0.8"/>
<circle cx="1292.4" cy="1184" r="15.6" fill="#ffff33" stroke="#9a9a3a" stroke-width="0.8"/>
<circle cx="1620.7" cy="1018.7" r="15.6" fill="#ffff33" stroke="#9a9a3a" stroke-width="0.8"/>
<circle cx="1572.5" cy="1261" r="15.6" fill="#ffff33" stroke="#9a9a3a" stroke-width="0.8"/>
<rect x="1665.4" y="905.1" width="31.2" height="31.2" fill="#91502e"/>
<rect x="600.0" y="1454.1" width="31.2" height="31.2" fill="#e41a1c"/>
<rect x="620.4" y="1516.4" width="31.2" height="31.2" fill="#e41a1c"/>
<circle cx="666.3" cy="1522.4" r="15.6" fill="#ffff33" stroke="#9a9a3a" stroke-width="0.8"/>
<circle cx="693.3" cy="1536" r="15.6" fill="#ffff33" stroke="#9a9a3a" stroke-width="0.8"/>
<circle cx="680.6" cy="1586" r="15.6" fill="#ffffff" stroke="#bbbbbb" stroke-width="0.8"/></g>
<rect x="30.25" y="612.5" width="2010" height="1144" fill="none" stroke="#000" stroke-width="3"/>
<g clip-path="url(#clipB)">
<rect x="30" y="1797" width="2011" height="1145" fill="#d3d3d3"/>
<use href="#base" transform="translate(-6.7,1179.2)"/>
</g>
<g font-family="Liberation Sans, sans-serif" font-size="37" fill="#777">
<path d="M159.7,1799.0v19 M399.4,1799.0v19 M270.0,2940.0v-19 M637.9,1799.0v19 M534.6,2940.0v-19 M875.4,1799.0v19 M798.0,2940.0v-19 M1112.2,1799.0v19 M1060.7,2940.0v-19 M1348.6,1799.0v19 M1322.8,2940.0v-19 M1584.7,1799.0v19 M1584.7,2940.0v-19 M1820.8,1799.0v19 M1846.5,2940.0v-19 M31.5,1914.2h19 M2038.5,2017.9h-19 M31.5,2240.9h19 M2038.5,2341.5h-19 M31.5,2567.2h19 M2038.5,2664.9h-19 M31.5,2893.1h19" stroke="#727272" stroke-width="2.6" fill="none"/>
<text x="291.5" y="2914.0" text-anchor="end">-92</text>
<text x="556.1" y="2914.0" text-anchor="end">-90</text>
<text x="819.5" y="2914.0" text-anchor="end">-88</text>
<text x="1082.2" y="2914.0" text-anchor="end">-86</text>
<text x="1344.3" y="2914.0" text-anchor="end">-84</text>
<text x="1606.2" y="2914.0" text-anchor="end">-82</text>
<text x="1868.0" y="2914.0" text-anchor="end">-80</text>
<text x="59.5" y="1928.2">42</text>
<text x="59.5" y="2254.9">40</text>
<text x="59.5" y="2581.2">38</text>
<text x="59.5" y="2907.1">36</text>
<text x="40.5" y="2730.3" font-size="43.5">0</text><text x="162" y="2730.3" font-size="43.5" textLength="73" lengthAdjust="spacingAndGlyphs">100</text><text x="308.5" y="2730.3" font-size="43.5" textLength="142" lengthAdjust="spacingAndGlyphs">200 km</text>
</g>
<g>
<rect x="53" y="2760" width="294" height="32.3" fill="#7b7b7b"/>
<rect x="201" y="2762.2" width="143.3" height="12.9" fill="#fff"/>
<rect x="54.8" y="2777.8" width="144.2" height="12.6" fill="#fff"/>
</g>
<g font-family="Liberation Sans, sans-serif" font-weight="bold" font-size="66" fill="#000"><text x="153" y="2023">(</text><text x="183" y="2023">b</text><text x="223.4" y="2023">)</text><text x="262.6" y="2023">ORV</text></g>
<g font-family="Liberation Serif, serif" font-style="italic" font-size="42" fill="#77706e">
<text x="940.5" y="1897.5" textLength="81" lengthAdjust="spacingAndGlyphs">Lake</text><text x="911.5" y="1949.5" textLength="138" lengthAdjust="spacingAndGlyphs">Michigan</text>
<text x="1618" y="1992.5" textLength="81" lengthAdjust="spacingAndGlyphs">Lake</text><text x="1624.5" y="2045" textLength="67.5" lengthAdjust="spacingAndGlyphs">Erie</text></g>
<g clip-path="url(#clipB)"><line x1="733.25" y1="2105.5" x2="715" y2="2145" stroke="#3c3c3c" stroke-width="1.4"/>
<line x1="1093.75" y1="2088.75" x2="1126.25" y2="2123.25" stroke="#3c3c3c" stroke-width="1.4"/>
<line x1="1157" y1="2088.75" x2="1126.25" y2="2123.25" stroke="#3c3c3c" stroke-width="1.4"/>
<line x1="1297.5" y1="2094.5" x2="1339.5" y2="2073" stroke="#3c3c3c" stroke-width="1.4"/>
<line x1="1297.5" y1="2094.5" x2="1339.5" y2="2112.5" stroke="#3c3c3c" stroke-width="1.4"/>
<line x1="1637" y1="2175" x2="1615.5" y2="2207.6" stroke="#3c3c3c" stroke-width="1.4"/>
<line x1="568.9" y1="2297.5" x2="610.1" y2="2309.7" stroke="#3c3c3c" stroke-width="1.4"/>
<line x1="832.2" y1="2319.4" x2="873.2" y2="2304.7" stroke="#3c3c3c" stroke-width="1.4"/>
<line x1="956.3" y1="2338" x2="1001.3" y2="2338" stroke="#3c3c3c" stroke-width="1.4"/>
<line x1="775.6" y1="2405.1" x2="813.5" y2="2420" stroke="#3c3c3c" stroke-width="1.4"/>
<line x1="1125.3" y1="2420.5" x2="1134.3" y2="2369.4" stroke="#3c3c3c" stroke-width="1.4"/>
<line x1="1125.3" y1="2420.5" x2="1163.5" y2="2396.2" stroke="#3c3c3c" stroke-width="1.4"/>
<line x1="1125.3" y1="2420.5" x2="1088.4" y2="2382.1" stroke="#3c3c3c" stroke-width="1.4"/>
<line x1="1136" y1="2428" x2="1150" y2="2452" stroke="#3c3c3c" stroke-width="1.4"/>
<line x1="1242.3" y1="2413.3" x2="1282.8" y2="2405" stroke="#3c3c3c" stroke-width="1.4"/>
<line x1="970.7" y1="2454.8" x2="935.2" y2="2429.5" stroke="#3c3c3c" stroke-width="1.4"/>
<line x1="970.7" y1="2454.8" x2="963.3" y2="2411.8" stroke="#3c3c3c" stroke-width="1.4"/>
<line x1="970.7" y1="2454.8" x2="995.7" y2="2418.4" stroke="#3c3c3c" stroke-width="1.4"/>
<line x1="1054.5" y1="2461" x2="1032.6" y2="2418.4" stroke="#3c3c3c" stroke-width="1.4"/>
<line x1="1054.5" y1="2461" x2="1053.2" y2="2391.8" stroke="#3c3c3c" stroke-width="1.4"/>
<line x1="1054.5" y1="2461" x2="1077.9" y2="2425.4" stroke="#3c3c3c" stroke-width="1.4"/>
<line x1="1054.5" y1="2461" x2="1093.6" y2="2465" stroke="#3c3c3c" stroke-width="1.4"/>
<line x1="1026.9" y1="2541.1" x2="995.4" y2="2519.2" stroke="#3c3c3c" stroke-width="1.4"/>
<line x1="1026.9" y1="2541.1" x2="1027.2" y2="2503.6" stroke="#3c3c3c" stroke-width="1.4"/>
<line x1="1026.9" y1="2541.1" x2="1064.5" y2="2511" stroke="#3c3c3c" stroke-width="1.4"/>
<line x1="1026.9" y1="2541.1" x2="1104" y2="2518" stroke="#3c3c3c" stroke-width="1.4"/>
<line x1="1026.9" y1="2541.1" x2="1069.9" y2="2549" stroke="#3c3c3c" stroke-width="1.4"/>
<line x1="1020.4" y1="2571.9" x2="979.7" y2="2558.3" stroke="#3c3c3c" stroke-width="1.4"/>
<line x1="1020.4" y1="2571.9" x2="986.6" y2="2590.1" stroke="#3c3c3c" stroke-width="1.4"/>
<line x1="1020.4" y1="2571.9" x2="1020.4" y2="2608.8" stroke="#3c3c3c" stroke-width="1.4"/>
<line x1="1020.4" y1="2571.9" x2="1051.6" y2="2596.3" stroke="#3c3c3c" stroke-width="1.4"/>
<line x1="1020.4" y1="2571.9" x2="1093.4" y2="2585.2" stroke="#3c3c3c" stroke-width="1.4"/>
<line x1="844" y1="2592.8" x2="826.8" y2="2549.5" stroke="#3c3c3c" stroke-width="1.4"/>
<line x1="844" y1="2592.8" x2="803.3" y2="2580.3" stroke="#3c3c3c" stroke-width="1.4"/>
<line x1="511.25" y1="2495.6" x2="484.75" y2="2521" stroke="#3c3c3c" stroke-width="1.4"/>
<line x1="484.75" y1="2521" x2="441.6" y2="2526.5" stroke="#3c3c3c" stroke-width="1.4"/>
<line x1="686.8" y1="2713.9" x2="731.3" y2="2716.7" stroke="#3c3c3c" stroke-width="1.4"/>
<line x1="1576" y1="2455.3" x2="1566.4" y2="2420.3" stroke="#3c3c3c" stroke-width="1.4"/>
<line x1="1576" y1="2455.3" x2="1611.1" y2="2425.4" stroke="#3c3c3c" stroke-width="1.4"/>
<line x1="901.1" y1="2615.6" x2="940.9" y2="2632.3" stroke="#3c3c3c" stroke-width="1.4"/>
<circle cx="1025.75" cy="2039.5" r="15.6" fill="#377eb8" stroke="#377eb8" stroke-width="0.8"/>
<circle cx="1038.25" cy="2067" r="15.6" fill="#e41a1c" stroke="#e41a1c" stroke-width="0.8"/>
<circle cx="1093.75" cy="2088.75" r="15.6" fill="#984ea3" stroke="#984ea3" stroke-width="0.8"/>
<circle cx="1157" cy="2088.75" r="15.6" fill="#e41a1c" stroke="#e41a1c" stroke-width="0.8"/>
<circle cx="1126.25" cy="2123.25" r="15.6" fill="#f781bf" stroke="#f781bf" stroke-width="0.8"/>
<circle cx="1236.75" cy="2098.75" r="15.6" fill="#ffff33" stroke="#9a9a3a" stroke-width="0.8"/>
<circle cx="1297.5" cy="2094.5" r="15.6" fill="#ffff33" stroke="#9a9a3a" stroke-width="0.8"/>
<circle cx="1339.5" cy="2073" r="15.6" fill="#e41a1c" stroke="#e41a1c" stroke-width="0.8"/>
<rect x="1323.9" y="2096.9" width="31.2" height="31.2" fill="#ffff33"/>
<circle cx="1205.9" cy="2162.3" r="15.6" fill="#984ea3" stroke="#984ea3" stroke-width="0.8"/>
<circle cx="733.25" cy="2105.5" r="15.6" fill="#f781bf" stroke="#f781bf" stroke-width="0.8"/>
<circle cx="715" cy="2145" r="15.6" fill="#ffff33" stroke="#9a9a3a" stroke-width="0.8"/>
<circle cx="856" cy="2131.5" r="15.6" fill="#ffff33" stroke="#9a9a3a" stroke-width="0.8"/>
<circle cx="1637" cy="2175" r="15.6" fill="#f781bf" stroke="#f781bf" stroke-width="0.8"/>
<circle cx="1615.5" cy="2207.6" r="15.6" fill="#ffff33" stroke="#9a9a3a" stroke-width="0.8"/>
<rect x="1535.1" y="2236.3" width="31.2" height="31.2" fill="#ff7f00"/>
<circle cx="1159.5" cy="2285.3" r="15.6" fill="#984ea3" stroke="#984ea3" stroke-width="0.8"/>
<circle cx="1348.4" cy="2325.1" r="15.6" fill="#984ea3" stroke="#984ea3" stroke-width="0.8"/>
<circle cx="568.9" cy="2297.5" r="15.6" fill="#000000" stroke="#000000" stroke-width="0.8"/>
<circle cx="610.1" cy="2309.7" r="15.6" fill="#ffff33" stroke="#9a9a3a" stroke-width="0.8"/>
<circle cx="832.2" cy="2319.4" r="15.6" fill="#000000" stroke="#000000" stroke-width="0.8"/>
<circle cx="873.2" cy="2304.7" r="15.6" fill="#ffff33" stroke="#9a9a3a" stroke-width="0.8"/>
<circle cx="956.3" cy="2342.2" r="15.6" fill="#999999" stroke="#999999" stroke-width="0.8"/>
<rect x="985.7" y="2312.9" width="31.2" height="31.2" fill="#e41a1c"/>
<rect x="1037.6" y="2376.2" width="31.2" height="31.2" fill="#f781bf"/>
<circle cx="1088.4" cy="2382.1" r="15.6" fill="#000000" stroke="#000000" stroke-width="0.8"/>
<circle cx="1134.3" cy="2369.4" r="15.6" fill="#e41a1c" stroke="#e41a1c" stroke-width="0.8"/>
<circle cx="775.6" cy="2405.1" r="15.6" fill="#000000" stroke="#000000" stroke-width="0.8"/>
<circle cx="813.5" cy="2420" r="15.6" fill="#ffff33" stroke="#9a9a3a" stroke-width="0.8"/>
<circle cx="963.3" cy="2411.8" r="15.6" fill="#e41a1c" stroke="#e41a1c" stroke-width="0.8"/>
<circle cx="995.7" cy="2418.4" r="15.6" fill="#4daf4a" stroke="#4daf4a" stroke-width="0.8"/>
<circle cx="1032.6" cy="2418.4" r="15.6" fill="#000000" stroke="#000000" stroke-width="0.8"/>
<circle cx="1077.9" cy="2425.4" r="15.6" fill="#e41a1c" stroke="#e41a1c" stroke-width="0.8"/>
<rect x="1109.7" y="2404.9" width="31.2" height="31.2" fill="#4daf4a"/>
<circle cx="1163.5" cy="2396.2" r="15.6" fill="#984ea3" stroke="#984ea3" stroke-width="0.8"/>
<rect x="1147.9" y="2420.4" width="31.2" height="31.2" fill="#ffff33"/>
<circle cx="1242.3" cy="2413.3" r="15.6" fill="#377eb8" stroke="#377eb8" stroke-width="0.8"/>
<circle cx="1282.8" cy="2405" r="15.6" fill="#984ea3" stroke="#984ea3" stroke-width="0.8"/>
<circle cx="935.2" cy="2429.5" r="15.6" fill="#984ea3" stroke="#984ea3" stroke-width="0.8"/>
<circle cx="970.7" cy="2454.8" r="15.6" fill="#f781bf" stroke="#f781bf" stroke-width="0.8"/>
<circle cx="1054.5" cy="2461" r="15.6" fill="#91502e" stroke="#91502e" stroke-width="0.8"/>
<circle cx="1093.6" cy="2465" r="15.6" fill="#984ea3" stroke="#984ea3" stroke-width="0.8"/>
<circle cx="1019.8" cy="2472.5" r="15.6" fill="#984ea3" stroke="#984ea3" stroke-width="0.8"/>
<circle cx="1566.4" cy="2420.3" r="15.6" fill="#91502e" stroke="#91502e" stroke-width="0.8"/>
<circle cx="1611.1" cy="2425.4" r="15.6" fill="#984ea3" stroke="#984ea3" stroke-width="0.8"/>
<circle cx="1576" cy="2455.3" r="15.6" fill="#ffff33" stroke="#9a9a3a" stroke-width="0.8"/>
<circle cx="511.25" cy="2495.6" r="15.6" fill="#e41a1c" stroke="#e41a1c" stroke-width="0.8"/>
<circle cx="484.75" cy="2521" r="15.6" fill="#ffff33" stroke="#9a9a3a" stroke-width="0.8"/>
<circle cx="441.6" cy="2526.5" r="15.6" fill="#000000" stroke="#000000" stroke-width="0.8"/>
<circle cx="1027.2" cy="2503.6" r="15.6" fill="#e41a1c" stroke="#e41a1c" stroke-width="0.8"/>
<circle cx="995.4" cy="2519.2" r="15.6" fill="#ffff33" stroke="#9a9a3a" stroke-width="0.8"/>
<circle cx="1064.5" cy="2511" r="15.6" fill="#984ea3" stroke="#984ea3" stroke-width="0.8"/>
<rect x="1088.4" y="2502.4" width="31.2" height="31.2" fill="#f781bf"/>
<circle cx="1069.9" cy="2549" r="15.6" fill="#000000" stroke="#000000" stroke-width="0.8"/>
<circle cx="1026.9" cy="2541.1" r="15.6" fill="#f781bf" stroke="#f781bf" stroke-width="0.8"/>
<circle cx="979.7" cy="2558.3" r="15.6" fill="#ffff33" stroke="#9a9a3a" stroke-width="0.8"/>
<rect x="1077.8" y="2569.6" width="31.2" height="31.2" fill="#984ea3"/>
<circle cx="986.6" cy="2590.1" r="15.6" fill="#e41a1c" stroke="#e41a1c" stroke-width="0.8"/>
<circle cx="1051.6" cy="2596.3" r="15.6" fill="#000000" stroke="#000000" stroke-width="0.8"/>
<circle cx="1020.4" cy="2608.8" r="15.6" fill="#984ea3" stroke="#984ea3" stroke-width="0.8"/>
<circle cx="1020.4" cy="2571.9" r="15.6" fill="#f781bf" stroke="#f781bf" stroke-width="0.8"/>
<circle cx="826.8" cy="2549.5" r="15.6" fill="#984ea3" stroke="#984ea3" stroke-width="0.8"/>
<rect x="877.9" y="2542.0" width="31.2" height="31.2" fill="#91502e"/>
<circle cx="803.3" cy="2580.3" r="15.6" fill="#000000" stroke="#000000" stroke-width="0.8"/>
<circle cx="844" cy="2592.8" r="15.6" fill="#ffff33" stroke="#9a9a3a" stroke-width="0.8"/>
<circle cx="858" cy="2590.4" r="15.6" fill="#e41a1c" stroke="#e41a1c" stroke-width="0.8"/>
<circle cx="901.1" cy="2615.6" r="15.6" fill="#ffff33" stroke="#9a9a3a" stroke-width="0.8"/>
<circle cx="940.9" cy="2632.3" r="15.6" fill="#000000" stroke="#000000" stroke-width="0.8"/>
<circle cx="880.1" cy="2653.9" r="15.6" fill="#984ea3" stroke="#984ea3" stroke-width="0.8"/>
<circle cx="660" cy="2700.4" r="15.6" fill="#ffff33" stroke="#9a9a3a" stroke-width="0.8"/>
<circle cx="686.8" cy="2713.9" r="15.6" fill="#ffff33" stroke="#9a9a3a" stroke-width="0.8"/>
<circle cx="731.3" cy="2716.7" r="15.6" fill="#984ea3" stroke="#984ea3" stroke-width="0.8"/></g>
<rect x="30.25" y="1797.5" width="2010" height="1144" fill="none" stroke="#000" stroke-width="3"/>
</svg>
</body></html>
